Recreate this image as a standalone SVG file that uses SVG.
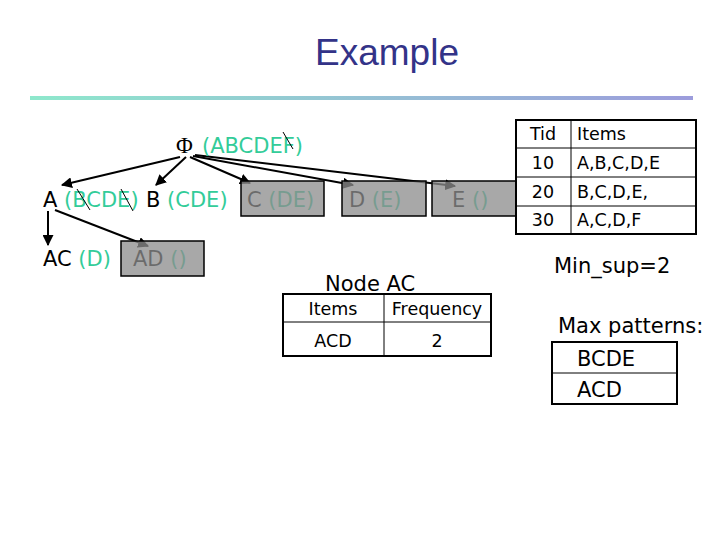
<svg xmlns="http://www.w3.org/2000/svg" width="720" height="540" viewBox="0 0 720 540">
<defs>
<linearGradient id="rule" x1="0" y1="0" x2="1" y2="0">
<stop offset="0" stop-color="#8ee8cc"/>
<stop offset="1" stop-color="#9c9cdc"/>
</linearGradient>
<marker id="ah" viewBox="0 0 10 10" refX="9" refY="5" markerWidth="5.5" markerHeight="5.5" orient="auto" markerUnits="strokeWidth">
<path d="M0,0 L10,5 L0,10 z" fill="#000"/>
</marker>
<style>
.t{font-family:"DejaVu Sans",Verdana,sans-serif;font-size:21px;fill:#000}
.tb{font-family:"DejaVu Sans",Verdana,sans-serif;font-size:17.5px;fill:#000}
.g{fill:#33cc99}
.c{stroke:#000;stroke-width:2;fill:none}
.s{stroke:#000;stroke-width:1}
.ov{fill:#8d8d8d;fill-opacity:0.76;stroke:#000;stroke-width:1.5}
.cell{fill:#fff;stroke:#000;stroke-width:2}
.ln{stroke:#000;stroke-width:1}
</style>
</defs>
<rect width="720" height="540" fill="#fff"/>
<text x="387" y="65" text-anchor="middle" font-family="Liberation Sans, Arial, sans-serif" font-size="37" fill="#333388">Example</text>
<rect x="30" y="96" width="663" height="4" fill="url(#rule)"/>

<g id="connectors">
<line class="c" x1="180" y1="157" x2="62" y2="185" marker-end="url(#ah)"/>
<line class="c" x1="186" y1="157" x2="156" y2="185" marker-end="url(#ah)"/>
<line class="c" x1="190" y1="157" x2="250" y2="183" marker-end="url(#ah)"/>
<line class="c" x1="193" y1="156" x2="353" y2="185" marker-end="url(#ah)"/>
<line class="c" x1="195" y1="155" x2="455" y2="186" marker-end="url(#ah)"/>
<line class="c" x1="48" y1="211" x2="48" y2="245" marker-end="url(#ah)"/>
<line class="c" x1="55" y1="210" x2="148" y2="246" marker-end="url(#ah)"/>
</g>

<g id="node-root">
<text x="176" y="153" font-family="Liberation Serif, Times New Roman, serif" font-size="23" fill="#000">Φ</text>
<text class="t g" x="202" y="153">(ABCDEF)</text>
<line class="s" x1="283" y1="132" x2="293" y2="149"/>
</g>

<g id="node-A">
<text class="t" x="43" y="207">A <tspan class="g">(BCDE)</tspan></text>
<line class="s" x1="77" y1="189" x2="90" y2="210"/>
<line class="s" x1="121" y1="189" x2="133" y2="211"/>
</g>
<g id="node-B">
<text class="t" x="146" y="207">B <tspan class="g">(CDE)</tspan></text>
</g>
<g id="node-C">
<text class="t" x="247" y="207">C <tspan class="g">(DE)</tspan></text>
<rect class="ov" x="241" y="181" width="83" height="35"/>
</g>
<g id="node-D">
<text class="t" x="349" y="207">D <tspan class="g">(E)</tspan></text>
<rect class="ov" x="342" y="181" width="84" height="35"/>
</g>
<g id="node-E">
<text class="t" x="452" y="207">E <tspan class="g">()</tspan></text>
<rect class="ov" x="432" y="181" width="86" height="35"/>
</g>
<g id="node-AC">
<text class="t" x="43" y="266">AC <tspan class="g">(D)</tspan></text>
</g>
<g id="node-AD">
<text class="t" x="133" y="266">AD <tspan class="g">()</tspan></text>
<rect class="ov" x="121" y="241" width="83" height="35"/>
</g>

<g id="tid-table">
<rect class="cell" x="516" y="120" width="180" height="114"/>
<line class="ln" x1="516" y1="148" x2="696" y2="148"/>
<line class="ln" x1="516" y1="177" x2="696" y2="177"/>
<line class="ln" x1="516" y1="206" x2="696" y2="206"/>
<line class="ln" x1="571" y1="120" x2="571" y2="234"/>
<text class="tb" x="543" y="140" text-anchor="middle">Tid</text>
<text class="tb" x="577" y="140">Items</text>
<text class="tb" x="543" y="169" text-anchor="middle">10</text>
<text class="tb" x="577" y="169">A,B,C,D,E</text>
<text class="tb" x="543" y="198" text-anchor="middle">20</text>
<text class="tb" x="577" y="198">B,C,D,E,</text>
<text class="tb" x="543" y="226" text-anchor="middle">30</text>
<text class="tb" x="577" y="226">A,C,D,F</text>
</g>

<g id="node-ac-table">
<text class="t" x="325" y="291">Node AC</text>
<rect class="cell" x="283" y="294" width="208" height="62"/>
<line class="ln" x1="283" y1="322" x2="491" y2="322"/>
<line class="ln" x1="384" y1="294" x2="384" y2="356"/>
<text class="tb" x="333" y="315" text-anchor="middle">Items</text>
<text class="tb" x="437" y="315" text-anchor="middle">Frequency</text>
<text class="tb" x="333" y="347" text-anchor="middle">ACD</text>
<text class="tb" x="437" y="347" text-anchor="middle">2</text>
</g>

<g id="min-sup">
<text class="t" x="554" y="273">Min_sup=2</text>
</g>
<g id="max-patterns">
<text class="t" x="558" y="333">Max patterns:</text>
<rect class="cell" x="552" y="342" width="125" height="62"/>
<line class="ln" x1="552" y1="373" x2="677" y2="373"/>
<text class="t" x="577" y="366">BCDE</text>
<text class="t" x="577" y="397">ACD</text>
</g>
</svg>
